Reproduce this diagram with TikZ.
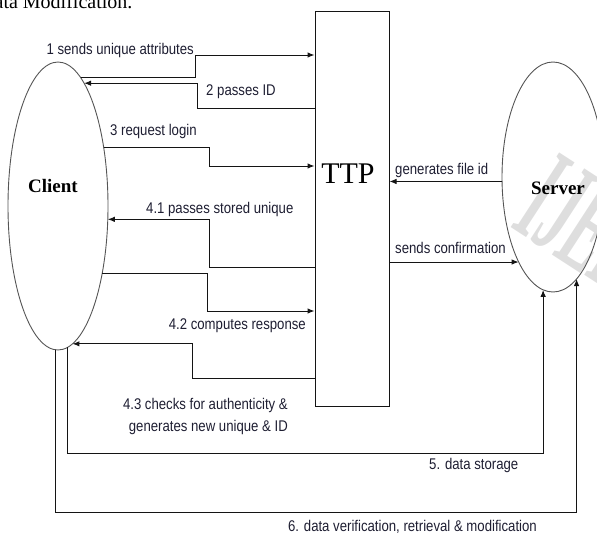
\documentclass[tikz,border=0pt]{standalone}
\usepackage{fontspec}
\setmainfont{Liberation Serif}
\newfontfamily\flowfont[FakeStretch=0.85]{Liberation Sans}
\usetikzlibrary{arrows.meta, shapes.geometric}
\definecolor{inkline}{RGB}{20, 20, 20}
\definecolor{rimgray}{RGB}{85, 85, 85}
\definecolor{labelink}{RGB}{30, 30, 50}
\definecolor{markgray}{RGB}{222, 222, 222}

\begin{document}
\begin{tikzpicture}[x=1pt, y=-1pt,
  party/.style={draw=rimgray, ellipse, line width=0.9pt, inner sep=0pt, outer sep=0pt},
  partyname/.style={font=\fontsize{19}{22}\selectfont\bfseries},
  flow/.style={draw=inkline, line width=1pt, -{Latex[length=7pt, width=5.5pt]}},
  msg/.style={text=labelink, inner sep=0pt, font=\flowfont\fontsize{15.5}{22}\selectfont}
]
  \useasboundingbox (0,0) rectangle (597,536);
  \clip (0,0) rectangle (597,536);

  % Cut-off heading and watermark
  \node[anchor=base west, inner sep=0pt, font=\fontsize{20}{24}\selectfont] (head) at (-20,8) {Data Modification.};
  \node[text=markgray, rotate=-33, xscale=0.42, font=\fontsize{136}{140}\selectfont\bfseries] (mark) at (603,235) {IJERT};

  % Client, TTP and server
  \node[party, minimum width=100pt, minimum height=288pt] (client) at (58,206) {};
  \node[partyname] (clientname) at (53,186) {Client};
  \node[draw=inkline, line width=1pt, minimum width=74pt, minimum height=395pt, inner sep=0pt] (ttp) at (352,208.5) {};
  \node[font=\fontsize{30}{34}\selectfont] (ttpname) at (348,174) {TTP};
  \node[party, minimum width=102pt, minimum height=230pt] (server) at (553,177) {};
  \node[partyname] (servername) at (558,188) {Server};

  % Bend points
  \coordinate (b1) at (195,55);
  \coordinate (b2) at (197,108);
  \coordinate (b3) at (209,166);
  \coordinate (b41) at (209,267);
  \coordinate (b42) at (207,311);
  \coordinate (b43) at (192,378);
  \coordinate (b5) at (0,453);
  \coordinate (b6) at (0,512);

  % Client <-> TTP
  \draw[flow] (client.80) -| (b1) -- (ttp.west |- b1);
  \draw[flow] (ttp.west |- b2) -- (b2) |- (client.78.5);
  \draw[flow] (client.52) -| (b3) -- (ttp.west |- b3);
  \draw[flow] (ttp.west |- b41) -- (b41) |- (client.-15);
  \draw[flow] (client.-57) -| (b42) -- (ttp.west |- b42);
  \draw[flow] (ttp.west |- b43) -- (b43) |- (client.-84);

  % TTP <-> server
  \draw[flow] (server.185) -- (ttp.east |- server.185);
  \draw[flow] (ttp.east |- server.248) -- (server.248);

  % Client -> server
  \draw[flow] (client.-86) |- (server.265 |- b5) -- (server.265);
  \draw[flow] (client.-91) |- (server.283 |- b6) -- (server.283);

  % Labels
  \node[msg, anchor=base east] (m1) at (194,54) {1 sends unique attributes};
  \node[msg, anchor=west] (m2) at (206,92) {2 passes ID};
  \node[msg, anchor=west] (m3) at (110,131) {3 request login};
  \node[msg, anchor=west] (m41) at (146,209) {4.1 passes stored unique};
  \node[msg, anchor=east] (m42) at (306,326) {4.2 computes response};
  \node[msg, anchor=east, align=right] (m43) at (288,416) {4.3 checks for authenticity \&\\ generates new unique \& ID};
  \node[msg, anchor=west] (mfile) at (395,170) {generates file id};
  \node[msg, anchor=west] (mconf) at (395,248) {sends confirmation};
  \node[msg, anchor=west] (m5) at (429,465) {5. data storage};
  \node[msg, anchor=east] (m6) at (537,527) {6. data verification, retrieval \& modification};
\end{tikzpicture}
\end{document}
